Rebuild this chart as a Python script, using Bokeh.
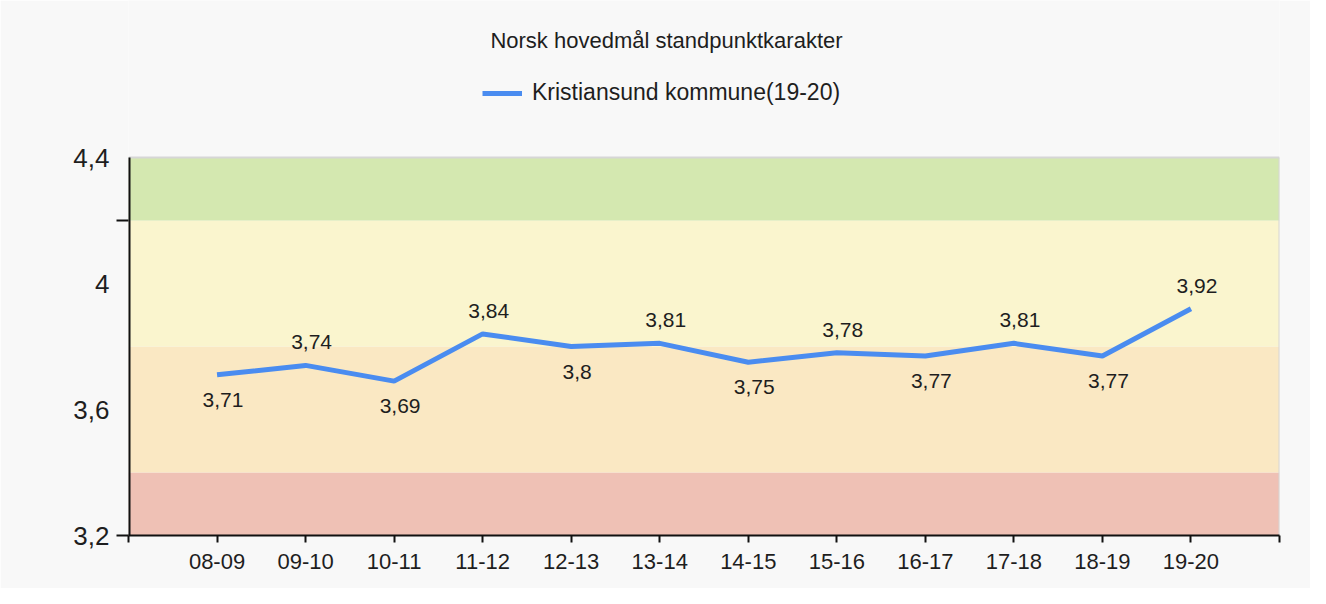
from bokeh.plotting import figure
from bokeh.models import (ColumnDataSource, Range1d, FixedTicker, CustomJSTickFormatter,
                          BoxAnnotation, LabelSet, Label, Legend, LegendItem)
from bokeh.core.properties import value
from bokeh.embed import file_html
from bokeh.resources import INLINE

title = "Norsk hovedmål standpunktkarakter"
series_name = "Kristiansund kommune(19-20)"
categories = ["08-09", "09-10", "10-11", "11-12", "12-13", "13-14",
              "14-15", "15-16", "16-17", "17-18", "18-19", "19-20"]
values = [3.71, 3.74, 3.69, 3.84, 3.80, 3.81, 3.75, 3.78, 3.77, 3.81, 3.77, 3.92]

band_low = [3.2, 3.4, 3.8, 4.2]
band_high = [3.4, 3.8, 4.2, 4.4]
band_colors = ["#efc1b5", "#fae8c3", "#faf5ce", "#d4e8b0"]

y_label_ticks = [3.2, 3.6, 4.0, 4.4]
y_mark_ticks = [3.2, 4.2]

FONT_NAME = "Liberation Sans"
FONT = value(FONT_NAME)
TXT = "#1e1e1e"

n = len(categories)
xs = list(range(1, n + 1))
labels = [("%g" % v).replace(".", ",") for v in values]
dy = [-25 if i % 2 == 0 else 23 for i in range(n)]
src = ColumnDataSource(dict(x=xs, y=values, text=labels, dy=dy))

# plot-area extent: the value axis runs 3.2..4.4; the frame reaches higher
# so that the title and legend can be drawn inside the canvas frame
y_min, y_max = band_low[0], band_high[-1]
x_min, x_max = 0, n + 1
FIG_W, FIG_H = 1310, 588
BORDER_LEFT, BORDER_RIGHT, BORDER_BOTTOM = 128, 31, 53
PLOT_TOP = 157          # pixel row (figure coords) of the 4.4 line
frame_h = FIG_H - BORDER_BOTTOM
px_per_unit = (frame_h - PLOT_TOP) / (y_max - y_min)
y_top = y_max + PLOT_TOP / px_per_unit

p = figure(width=FIG_W, height=FIG_H, output_backend="svg", toolbar_location=None,
           x_range=Range1d(x_min, x_max), y_range=Range1d(y_min, y_top))
p.title.visible = False
p.min_border_left = BORDER_LEFT
p.min_border_right = BORDER_RIGHT
p.min_border_top = 0
p.min_border_bottom = BORDER_BOTTOM
p.background_fill_color = "#f8f8f8"
p.border_fill_color = "#f8f8f8"
p.outline_line_color = None
p.xgrid.visible = False
p.ygrid.visible = False

for lo, hi, c in zip(band_low, band_high, band_colors):
    p.add_layout(BoxAnnotation(bottom=lo, top=hi, fill_color=c, fill_alpha=1.0,
                               line_color=None, level="underlay"))

# light frame on top and right of the plot area, black value-axis line on the left
p.segment(x0=[x_min, x_max], y0=[y_max, y_min], x1=[x_max, x_max], y1=[y_max, y_max],
          line_color="#d6d6d6", line_width=2)
p.segment(x0=[x_min], y0=[y_min], x1=[x_min], y1=[y_max],
          line_color="#111111", line_width=4)

r = p.line("x", "y", source=src, line_color="#4a8cf0", line_width=5)

p.add_layout(LabelSet(x="x", y="y", text="text", source=src, x_offset=6, y_offset="dy",
                      text_align="center", text_baseline="middle",
                      text_font=FONT, text_font_size="21px", text_color=TXT))

# x axis
xa = p.xaxis[0]
xa.ticker = FixedTicker(ticks=list(range(x_min, x_max + 1)))
xa.formatter = CustomJSTickFormatter(args=dict(labels=categories), code="""
    const i = Math.round(tick);
    return (i >= 1 && i <= labels.length) ? labels[i - 1] : "";
""")
xa.axis_line_color = "#111111"
xa.axis_line_width = 2
xa.major_tick_line_color = "#111111"
xa.major_tick_line_width = 2
xa.major_tick_out = 7
xa.major_tick_in = 0
xa.minor_tick_line_color = None
xa.major_label_standoff = 11
xa.major_label_text_font = FONT_NAME
xa.major_label_text_font_size = "22px"
xa.major_label_text_color = TXT

# y axis
ya = p.yaxis[0]
ya.ticker = FixedTicker(ticks=y_label_ticks, minor_ticks=y_mark_ticks)
ya.formatter = CustomJSTickFormatter(code="""
    let s = tick.toFixed(1).replace('.', ',');
    if (s.endsWith(',0')) { s = s.slice(0, -2); }
    return s;
""")
ya.axis_line_color = None
ya.major_tick_line_color = None
ya.major_tick_out = 0
ya.major_tick_in = 0
ya.minor_tick_line_color = "#111111"
ya.minor_tick_line_width = 2
ya.minor_tick_out = 12
ya.minor_tick_in = 0
ya.major_label_standoff = 7
ya.major_label_text_font = FONT_NAME
ya.major_label_text_font_size = "26px"
ya.major_label_text_color = TXT

# title (screen units, relative to the frame's bottom-left corner)
p.add_layout(Label(x=666 - BORDER_LEFT, y=frame_h - 40, x_units="screen", y_units="screen",
                   text=title, text_align="center", text_baseline="middle",
                   text_font=FONT_NAME, text_font_size="22px", text_color=TXT))

# legend
leg = Legend(items=[LegendItem(label=series_name, renderers=[r])],
             location=(482 - BORDER_LEFT, frame_h - 93 - 13), orientation="horizontal",
             glyph_width=40, glyph_height=20, label_standoff=10,
             padding=0, margin=0, border_line_color=None,
             background_fill_alpha=0.0,
             label_text_font=FONT_NAME, label_text_font_size="23px",
             label_text_color=TXT)
p.add_layout(leg)

open("out.html", "w").write(file_html(p, INLINE))
